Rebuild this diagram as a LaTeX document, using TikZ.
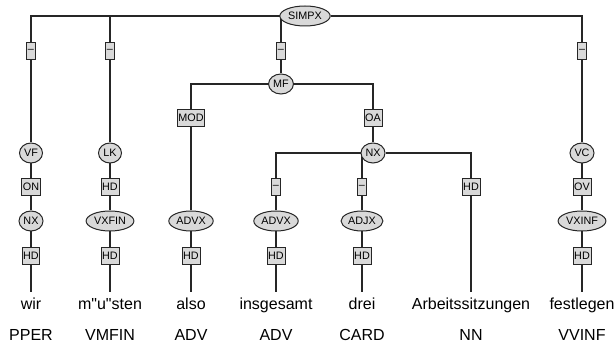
\documentclass[tikz,border=0pt]{standalone}
\usepackage{fontspec}
\setmainfont{Liberation Sans}[Ligatures=TeXOff]
\usetikzlibrary{shapes.geometric,backgrounds}
\begin{document}
\begin{tikzpicture}[x=1pt,y=-1pt,
  lbl/.style={draw=black!85,fill=black!15,line width=1pt,font=\fontsize{10.8}{12}\selectfont},
  ebox/.style={lbl,rectangle,minimum height=17pt,inner xsep=1.2pt,inner ysep=0pt},
  cat/.style={lbl,ellipse,minimum height=20pt,minimum width=23pt,inner xsep=1pt,inner ysep=0pt},
  word/.style={font=\fontsize{16}{19}\selectfont,anchor=base,text height=12pt,text depth=3.5pt,inner xsep=0pt,inner ysep=6pt},
  postag/.style={font=\fontsize{16}{19}\selectfont,anchor=base,inner sep=0pt},
  conn/.style={draw=black!85,line width=1.2pt}]
\useasboundingbox (0,0) rectangle (614,347);
% root
\node[cat] (simpx) at (305,16) {SIMPX};
\node[ebox] (d1) at (31,51) {–};
\node[ebox] (d2) at (110,51) {–};
\node[ebox] (d3) at (281,51) {–};
\node[ebox] (d4) at (582,51) {–};
\node[cat] (mf) at (281,84) {MF};
\node[ebox] (mod) at (191,118) {MOD};
\node[ebox] (oa) at (373,118) {OA};
\node[cat] (vf) at (31,153) {VF};
\node[cat] (lk) at (110,153) {LK};
\node[cat] (nxb) at (373,153) {NX};
\node[cat] (vc) at (582,153) {VC};
\node[ebox] (on) at (31,187) {ON};
\node[ebox] (hdlk) at (110,187) {HD};
\node[ebox] (d5) at (276,187) {–};
\node[ebox] (d6) at (362,187) {–};
\node[ebox] (hdnn) at (471,187) {HD};
\node[ebox] (ov) at (582,187) {OV};
\node[cat] (nxa) at (31,221) {NX};
\node[cat] (vxfin) at (110,221) {VXFIN};
\node[cat] (advxa) at (191,221) {ADVX};
\node[cat] (advxb) at (276,221) {ADVX};
\node[cat] (adjx) at (362,221) {ADJX};
\node[cat] (vxinf) at (582,221) {VXINF};
\node[ebox] (hda) at (31,256) {HD};
\node[ebox] (hdb) at (110,256) {HD};
\node[ebox] (hdc) at (191,256) {HD};
\node[ebox] (hdd) at (276,256) {HD};
\node[ebox] (hde) at (362,256) {HD};
\node[ebox] (hdg) at (582,256) {HD};
% words
\node[word] (w1) at (31,310) {wir};
\node[word] (w2) at (110,310) {m"u"sten};
\node[word] (w3) at (191,310) {also};
\node[word] (w4) at (276,310) {insgesamt};
\node[word] (w5) at (362,310) {drei};
\node[word] (w6) at (471,310) {Arbeitssitzungen};
\node[word] (w7) at (582,310) {festlegen};
\node[postag] (p1) at (31,341) {PPER};
\node[postag] (p2) at (110,341) {VMFIN};
\node[postag] (p3) at (191,341) {ADV};
\node[postag] (p4) at (276,341) {ADV};
\node[postag] (p5) at (362,341) {CARD};
\node[postag] (p6) at (471,341) {NN};
\node[postag] (p7) at (582,341) {VVINF};
\begin{scope}[on background layer]
\draw[conn] (simpx) -| (d1);
\draw[conn] (simpx) -| (d2);
\draw[conn] (simpx) -| (d3);
\draw[conn] (simpx) -| (d4);
\draw[conn] (d1) -- (vf) -- (on) -- (nxa) -- (hda) -- (w1.north);
\draw[conn] (d2) -- (lk) -- (hdlk) -- (vxfin) -- (hdb) -- (w2.north);
\draw[conn] (d3) -- (mf);
\draw[conn] (mf) -| (mod);
\draw[conn] (mf) -| (oa);
\draw[conn] (mod) -- (advxa) -- (hdc) -- (w3.north);
\draw[conn] (oa) -- (nxb);
\draw[conn] (nxb) -| (d5);
\draw[conn] (nxb) -| (d6);
\draw[conn] (nxb) -| (hdnn);
\draw[conn] (d5) -- (advxb) -- (hdd) -- (w4.north);
\draw[conn] (d6) -- (adjx) -- (hde) -- (w5.north);
\draw[conn] (hdnn) -- (w6.north);
\draw[conn] (d4) -- (vc) -- (ov) -- (vxinf) -- (hdg) -- (w7.north);
\end{scope}
\end{tikzpicture}
\end{document}
